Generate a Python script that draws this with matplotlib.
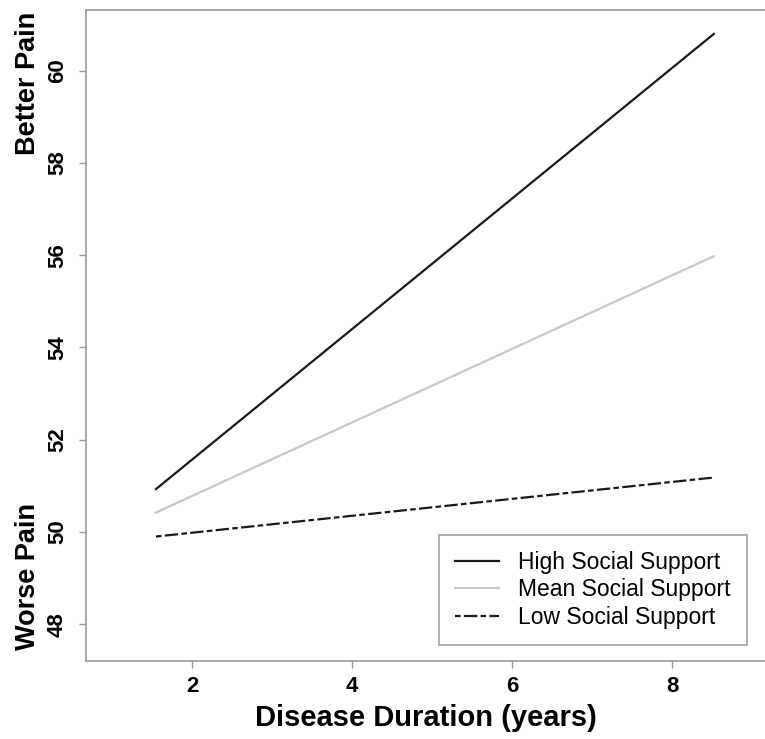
import matplotlib
matplotlib.use("Agg")
import matplotlib.pyplot as plt

plt.rcParams['font.family'] = ['Liberation Sans', 'DejaVu Sans']

# simple slopes: predicted pain by disease duration
duration = [1.55, 8.52]
high_support = [50.93, 60.80]
mean_support = [50.42, 55.98]
low_support = [49.90, 51.18]
labels = ["High Social Support", "Mean Social Support", "Low Social Support"]

x_ticks = [2, 4, 6, 8]
y_ticks = [48, 50, 52, 54, 56, 58, 60]

fig = plt.figure(figsize=(7.65, 7.39), dpi=100)
ax = fig.add_axes([0.1124, 0.1055, 0.8876, 0.881])

ax.plot(duration, high_support, color="#1a1a1a", lw=1.6, label=labels[0])
ax.plot(duration, mean_support, color="#c8c8c8", lw=1.6, label=labels[1])
ax.plot(duration, low_support, color="#1a1a1a", lw=1.6, dashes=(2.5, 1.5, 6, 1.5), label=labels[2])

ax.set_xlim(0.675, 9.16)
ax.set_ylim(47.2, 61.32)
ax.set_xticks(x_ticks)
ax.set_yticks(y_ticks)

for s in ["left", "bottom", "top"]:
    ax.spines[s].set_color("#999999")
    ax.spines[s].set_linewidth(1.2)
ax.spines["right"].set_visible(False)
ax.tick_params(colors="#999999", length=5, width=1, labelcolor="black", labelsize=16)
ax.tick_params(axis="y", pad=8)
ax.tick_params(axis="x", pad=6)
for t in ax.get_xticklabels():
    t.set_fontweight("bold")
for t in ax.get_yticklabels():
    t.set_fontweight("bold")
    t.set_rotation(90)
    t.set_va("center")

ax.set_xlabel("Disease Duration (years)", fontsize=21, fontweight="bold", labelpad=5)

fig.text(0.036, 1 - 83 / 739, "Better Pain", rotation=90, ha="center", va="center",
         fontsize=19.5, fontweight="bold")
fig.text(0.036, 1 - 577 / 739, "Worse Pain", rotation=90, ha="center", va="center",
         fontsize=19.5, fontweight="bold")

leg = ax.legend(loc="lower right", bbox_to_anchor=(0.9735, 0.0246), borderaxespad=0,
                fontsize=16.5, frameon=True, fancybox=False, shadow=False,
                handlelength=1.9, borderpad=0.7, labelspacing=0.2, handletextpad=0.87)
leg.get_frame().set_edgecolor("#888888")
leg.get_frame().set_linewidth(1.2)

fig.savefig("out.png", dpi=100)
